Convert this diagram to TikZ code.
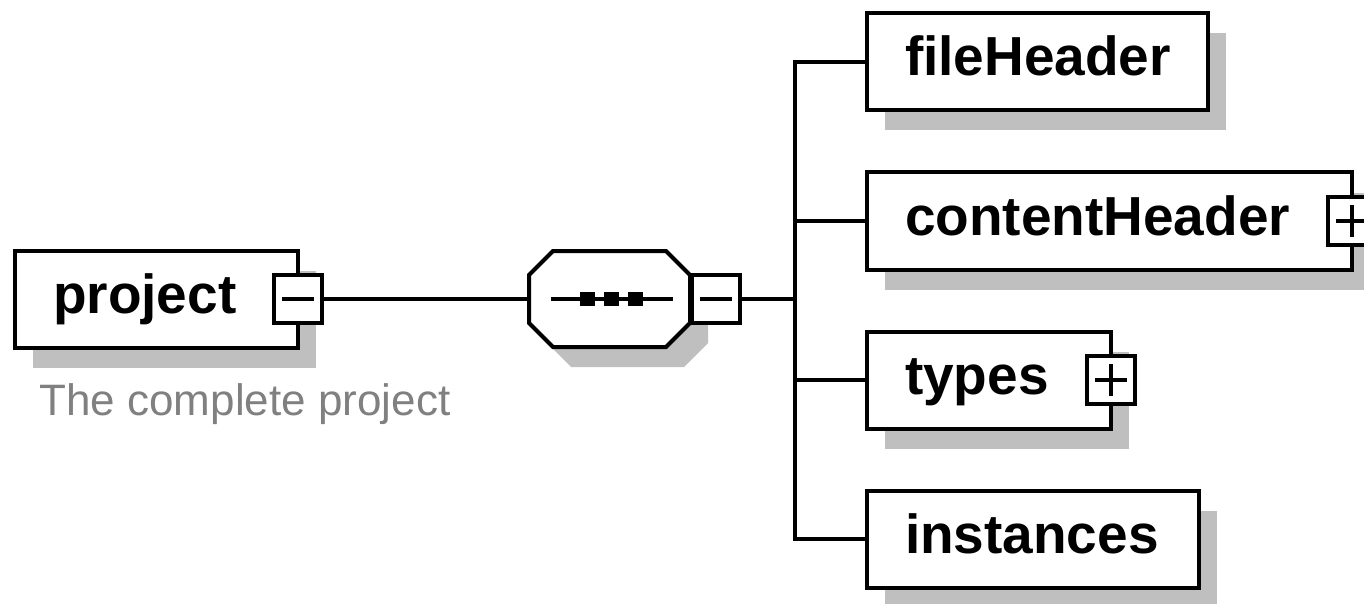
\documentclass[tikz,border=0pt]{standalone}
\usepackage{fontspec}
\setmainfont{Liberation Sans}
\usetikzlibrary{shadows}

\tikzset{
  elemshadow/.style={drop shadow={shadow xshift=18pt, shadow yshift=-20pt, fill=black!25, opacity=1}},
  elem/.style={draw, line width=4pt, fill=white, rectangle, outer sep=0pt,
    minimum height=97pt, inner xsep=38pt, inner ysep=0pt, align=left,
    text height=40pt, text depth=12pt, anchor=west, elemshadow,
    font=\fontsize{55}{60}\selectfont\bfseries},
  togglebox/.style={draw, line width=4pt, fill=white, rectangle, outer sep=0pt,
    minimum size=48pt, inner sep=0pt},
  minusbox/.style={togglebox, path picture={
    \draw[line width=3.5pt] ([xshift=-16pt]path picture bounding box.center) -- ([xshift=16pt]path picture bounding box.center);}},
  plusbox/.style={togglebox, path picture={
    \draw[line width=3.5pt] ([xshift=-16pt]path picture bounding box.center) -- ([xshift=16pt]path picture bounding box.center);
    \draw[line width=3.5pt] ([yshift=-16pt]path picture bounding box.center) -- ([yshift=16pt]path picture bounding box.center);}},
  wire/.style={line width=4pt}
}

\begin{document}
\begin{tikzpicture}[x=1pt, y=-1pt]
\clip (0,0) rectangle (1364,604);

% Root element
\node[elem, text width=207pt] (project) at (15,299) {project};
\node[minusbox] (projtoggle) at (298,299) {};
\node[anchor=base west, text=black!50, font=\fontsize{44}{50}\selectfont] (projdesc) at (36,415) {The complete project};

% Sequence compositor (octagon drawn round an empty node)
\node[minimum width=161pt, minimum height=96pt, inner sep=0pt, outer sep=0pt] (seq) at (609.5,299) {};
\draw[wire, fill=white, elemshadow] ([xshift=24pt]seq.north west) -- ([xshift=-24pt]seq.north east)
  -- ([yshift=-24pt]seq.north east) -- ([yshift=24pt]seq.south east) -- ([xshift=-24pt]seq.south east)
  -- ([xshift=24pt]seq.south west) -- ([yshift=24pt]seq.south west) -- ([yshift=-24pt]seq.north west) -- cycle;
\draw[wire] ([xshift=-59pt]seq.center) -- ([xshift=63pt]seq.center);
\foreach \dx in {-22,2,26}
  \fill ([xshift=\dx pt]seq.center) ++(-7.5,-7) rectangle ++(15,14);
\node[minusbox] (seqtoggle) at (716,299) {};

% Children
\node[elem, text width=265pt] (fileHeader) at (867,62) {fileHeader};
\node[elem, text width=409pt] (contentHeader) at (867,221) {contentHeader};
\node[plusbox] (cttoggle) at (contentHeader.east) {};
\node[elem, text width=168pt] (types) at (867,380) {types};
\node[plusbox] (typestoggle) at (types.east) {};
\node[elem, text width=256pt] (instances) at (867,539) {instances};

% Connectors
\coordinate (bus) at (795,299);
\draw[wire] (projtoggle.east) -- (seq.west);
\draw[wire] (seqtoggle.east) -- (bus);
\draw[wire] (fileHeader.west) -| (bus) |- (instances.west);
\draw[wire] (bus |- contentHeader.west) -- (contentHeader.west);
\draw[wire] (bus |- types.west) -- (types.west);
\end{tikzpicture}
\end{document}
